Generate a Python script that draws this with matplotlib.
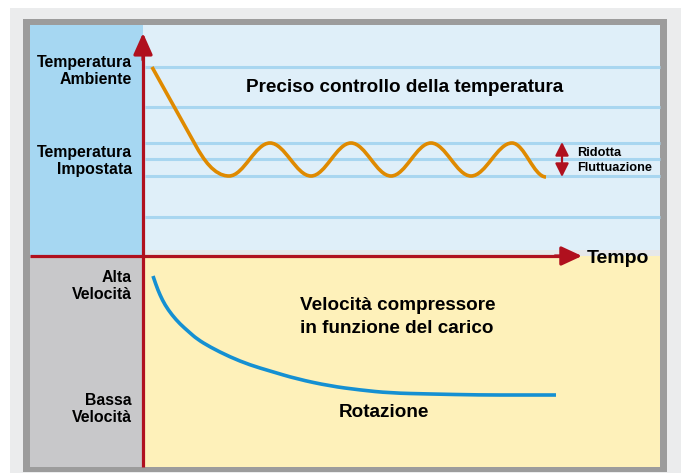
# plot.py
# Diagramma inverter: temperatura e velocità del compressore nel tempo.
# The axes are laid over the whole figure and use pixel-like units
# (x grows to the right, y grows downward), so every value below is
# read straight off the reference picture.

import matplotlib
matplotlib.use("Agg")
import matplotlib.pyplot as plt
from matplotlib.path import Path
from matplotlib.patches import PathPatch, Rectangle

# ── Data ──────────────────────────────────────────────────────────────────────
# Temperature curve: start, knee of the ramp, then alternating troughs/peaks
TEMP_START = (152, 67)
TEMP_KNEE  = (196, 146)
TEMP_TIMES = [229, 270, 311, 351, 391, 431, 471, 512, 546]
TEMP_VALS  = [176, 143, 176, 143, 176, 143, 176, 143, 177]

# Compressor speed curve
SPEED_TIMES = [153, 156, 160, 165, 172, 180, 189, 197, 210, 230, 250, 270,
               297, 330, 360, 390, 430, 480, 520, 556]
SPEED_VALS  = [276, 285, 295, 305, 315, 324, 332, 339, 347, 357, 365, 371,
               379, 386, 390, 393, 394, 395, 395, 395]

# Light blue reference lines in the temperature panel
GRID_LEVELS = [67, 107, 143, 159, 176, 217]

# Left-hand labels: (lines, y of each line)
LEFT_LABELS = [
    (["Temperatura", "Ambiente"],  [62, 79]),
    (["Temperatura", "Impostata"], [152, 169]),
    (["Alta", "Velocità"],         [277, 294]),
    (["Bassa", "Velocità"],        [400, 417]),
]

TITLE_TOP    = "Preciso controllo della temperatura"
TITLE_BOTTOM = ["Velocità compressore", "in funzione del carico"]
CURVE_NAME   = "Rotazione"
FLUCT_LABEL  = ["Ridotta", "Fluttuazione"]
X_LABEL      = "Tempo"

# ── Style ─────────────────────────────────────────────────────────────────────
W, H      = 681, 473
RED       = "#b0101e"
ORANGE    = "#df8a00"
BLUE      = "#1590d2"
GRID_COL  = "#a8d6f0"
FONT      = "Liberation Sans"

AXIS_X = 143
AXIS_Y = 256

fig = plt.figure(figsize=(W / 100, H / 100), dpi=100)
ax = fig.add_axes([0, 0, 1, 1])
ax.set_xlim(0, W)
ax.set_ylim(H, 0)
ax.axis("off")


def rect(x0, y0, x1, y1, color, z=0):
    ax.add_patch(Rectangle((x0, y0), x1 - x0, y1 - y0, facecolor=color,
                           edgecolor="none", zorder=z))


# ── Frame and panels ──────────────────────────────────────────────────────────
rect(10, 8, W, H, "#ebeced")
rect(23, 19, 667, 472, "#9c9c9c")
rect(30, 25, 660, 467, "#dfeff9")          # temperature plot area
rect(30, 25, AXIS_X, AXIS_Y, "#a6d7f2")    # temperature label column
rect(AXIS_X, 250, 660, AXIS_Y, "#e6e8ea")  # thin grey band above the axis
rect(30, AXIS_Y, 660, 467, "#fef1ba")      # speed plot area
rect(30, AXIS_Y, AXIS_X, 467, "#c8c8ca")   # speed label column

for lvl in GRID_LEVELS:
    ax.plot([AXIS_X + 2, 660], [lvl, lvl], color=GRID_COL, lw=2.2, zorder=1,
            solid_capstyle="butt")

# ── Axes arrows ───────────────────────────────────────────────────────────────
ax.plot([AXIS_X, AXIS_X], [467, 48], color=RED, lw=2.3, zorder=3,
        solid_capstyle="butt")
ax.annotate("", xy=(AXIS_X, 33), xytext=(AXIS_X, 60),
            arrowprops=dict(arrowstyle="-|>,head_length=1.3,head_width=0.58",
                            color=RED, lw=2.3, mutation_scale=10,
                            shrinkA=0, shrinkB=0), zorder=4)
ax.plot([30, 570], [AXIS_Y, AXIS_Y], color=RED, lw=2.3, zorder=3,
        solid_capstyle="butt")
ax.annotate("", xy=(582, AXIS_Y), xytext=(555, AXIS_Y),
            arrowprops=dict(arrowstyle="-|>,head_length=1.25,head_width=0.58",
                            color=RED, lw=2.3, mutation_scale=10,
                            shrinkA=0, shrinkB=0), zorder=4)

# ── Temperature curve ─────────────────────────────────────────────────────────
# Ramp as a straight segment, then smooth half-waves (Bezier, horizontal
# tangents at each peak/trough; k = 1 - 2/pi gives a sine-like shape).
K = 0.3634
verts = [TEMP_START, TEMP_KNEE]
codes = [Path.MOVETO, Path.LINETO]
kx, ky = TEMP_KNEE
t0, v0 = TEMP_TIMES[0], TEMP_VALS[0]
dx, dy = kx - TEMP_START[0], ky - TEMP_START[1]
verts += [(kx + dx * 0.16, ky + dy * 0.16), (t0 - 15, v0), (t0, v0)]
codes += [Path.CURVE4] * 3
for (ta, va), (tb, vb) in zip(zip(TEMP_TIMES[:-1], TEMP_VALS[:-1]),
                              zip(TEMP_TIMES[1:], TEMP_VALS[1:])):
    span = tb - ta
    verts += [(ta + K * span, va), (tb - K * span, vb), (tb, vb)]
    codes += [Path.CURVE4] * 3
ax.add_patch(PathPatch(Path(verts, codes), facecolor="none", edgecolor=ORANGE,
                       lw=2.6, capstyle="butt", joinstyle="round", zorder=5))

# ── Speed curve ───────────────────────────────────────────────────────────────
# Quadratic B-spline style path: read points act as control points and the
# curve passes through the midpoints, so the polyline corners are rounded.
pts = list(zip(SPEED_TIMES, SPEED_VALS))
sverts = [pts[0]]
scodes = [Path.MOVETO]
for p, q in zip(pts[1:-2], pts[2:-1]):
    sverts += [p, ((p[0] + q[0]) / 2, (p[1] + q[1]) / 2)]
    scodes += [Path.CURVE3] * 2
sverts += [pts[-2], pts[-1]]
scodes += [Path.CURVE3] * 2
ax.add_patch(PathPatch(Path(sverts, scodes), facecolor="none", edgecolor=BLUE,
                       lw=2.6, capstyle="butt", zorder=5))

# ── Reduced fluctuation marker ────────────────────────────────────────────────
ax.annotate("", xy=(562, 142), xytext=(562, 177),
            arrowprops=dict(arrowstyle="<|-|>,head_length=0.8,head_width=0.4",
                            color=RED, lw=1.6, mutation_scale=10,
                            shrinkA=0, shrinkB=0), zorder=4)
for txt, y in zip(FLUCT_LABEL, [153, 168]):
    ax.text(577, y, txt, fontsize=9.2, fontweight="bold", family=FONT,
            ha="left", va="center", zorder=6)

# ── Texts ─────────────────────────────────────────────────────────────────────
for lines, ys in LEFT_LABELS:
    for txt, y in zip(lines, ys):
        ax.text(132, y, txt, fontsize=11.4, fontweight="bold", family=FONT,
                ha="right", va="center", zorder=6)

ax.text(405, 88, TITLE_TOP, fontsize=13.6, fontweight="bold", family=FONT,
        ha="center", va="center", zorder=6)
for txt, y in zip(TITLE_BOTTOM, [305, 328]):
    ax.text(300, y, txt, fontsize=13.6, fontweight="bold", family=FONT,
            ha="left", va="center", zorder=6)
ax.text(384, 412, CURVE_NAME, fontsize=13.6, fontweight="bold", family=FONT,
        ha="center", va="center", zorder=6)
ax.text(587, 258, X_LABEL, fontsize=14, fontweight="bold", family=FONT,
        ha="left", va="center", zorder=6)

fig.savefig("out.png", dpi=100)
